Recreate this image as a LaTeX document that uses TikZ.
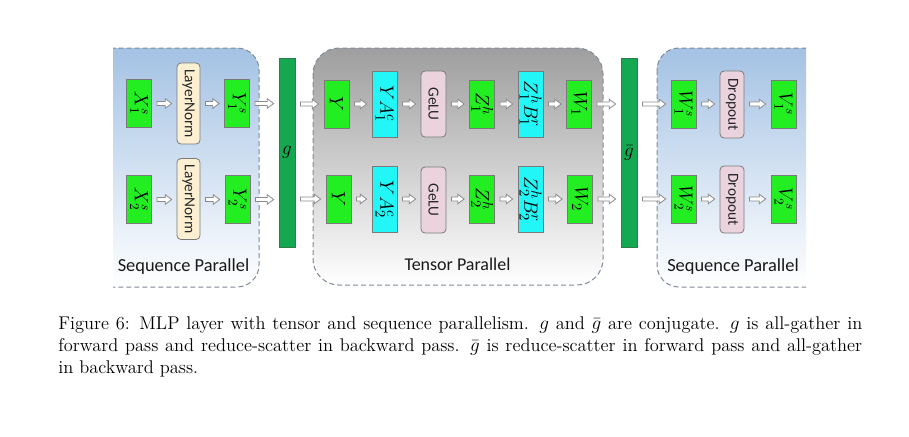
\documentclass[tikz,border=0pt]{standalone}
\usepackage{fontspec}
\usepackage{graphicx}
\newfontfamily\carl{Carlito}
\usetikzlibrary{calc}
\definecolor{bxgreen}{HTML}{22EE22}
\definecolor{bxcyan}{HTML}{22F6F6}
\definecolor{bxpink}{HTML}{EBD3DE}
\definecolor{bxcream}{HTML}{FDF0D2}
\definecolor{bargreen}{HTML}{14A850}
\definecolor{bardraw}{HTML}{2E7D4A}
\definecolor{bxborder}{HTML}{7A7A7A}
\definecolor{bluetop}{HTML}{A4C2E4}
\definecolor{graytop}{HTML}{9E9E9E}
\definecolor{panelline}{HTML}{7F8A98}
\definecolor{arrline}{HTML}{8A8A8A}
\def\pxu{0.75pt}
\def\bagap{3.75pt}
\def\bahl{4.8pt}
\def\bahh{3.6pt}
\def\bash{1.5pt}
\newcommand\barr[3]{%
  \draw[barrow] let \p1=(#1.east), \p2=(#2.west), \p3=(#3) in
   (\x1+\bagap,\y3+\bash) -- (\x2-\bagap-\bahl,\y3+\bash) -- (\x2-\bagap-\bahl,\y3+\bahh)
   -- (\x2-\bagap,\y3) -- (\x2-\bagap-\bahl,\y3-\bahh) -- (\x2-\bagap-\bahl,\y3-\bash)
   -- (\x1+\bagap,\y3-\bash) -- cycle;}
\begin{document}
\begin{tikzpicture}[x=0.75pt,y=-0.75pt,
  bx/.style={draw=bxborder, line width=0.6pt, inner sep=0pt, minimum width=25*\pxu, text=black},
  gsm/.style={bx, fill=bxgreen, minimum height=48*\pxu, font=\fontsize{14.5}{14.5}\selectfont},
  gmd/.style={bx, fill=bxgreen, minimum height=48*\pxu, font=\fontsize{15.5}{15.5}\selectfont},
  cmd/.style={bx, fill=bxcyan, minimum height=66*\pxu, font=\fontsize{15.5}{15.5}\selectfont},
  lnbox/.style={bx, fill=bxcream, rounded corners=3pt, minimum width=23*\pxu, minimum height=81*\pxu, font=\carl\fontsize{11.5}{11.5}\selectfont, text=black!85},
  pkbox/.style={bx, fill=bxpink, rounded corners=3pt, minimum height=66*\pxu, font=\carl\fontsize{11.5}{11.5}\selectfont, text=black!85},
  gbar/.style={draw=bardraw, line width=0.6pt, fill=bargreen, inner sep=0pt, minimum width=16*\pxu, minimum height=189*\pxu, font=\fontsize{14.5}{14.5}\selectfont},
  barrow/.style={draw=arrline, fill=white, line width=0.6pt, line join=miter},
  panel/.style={draw=panelline, line width=0.75pt, dash pattern=on 3.75pt off 2.25pt},
  plabel/.style={font=\carl\fontsize{13.8}{14}\selectfont, text=black!90, anchor=base, inner sep=0pt},
  captxt/.style={anchor=base west, inner sep=0pt, font=\fontsize{13.8}{16}\selectfont}
]
\useasboundingbox (0,0) rectangle (909,436);
% panels
\begin{scope}
  \clip (113,0) rectangle (806,436);
  \shade[top color=bluetop, bottom color=white, rounded corners=16.5pt] (70,48) rectangle (259,287);
  \draw[panel, rounded corners=16.5pt] (70,48) rectangle (259,287);
  \shade[top color=graytop, bottom color=white, rounded corners=19.5pt] (313,48) rectangle (603,285);
  \draw[panel, rounded corners=19.5pt] (313,48) rectangle (603,285);
  \shade[top color=bluetop, bottom color=white, rounded corners=16.5pt] (657,48) rectangle (850,287);
  \draw[panel, rounded corners=16.5pt] (657,48) rectangle (850,287);
\end{scope}
\node[plabel] (sp1) at (183.5,271) {Sequence Parallel};
\node[plabel, font=\carl\fontsize{13.5}{14}\selectfont] (tp) at (457.5,270) {Tensor Parallel};
\node[plabel] (sp2) at (733,271) {Sequence Parallel};
% bars
\node[gbar] (g) at (287,152.5) {$g$};
\node[gbar] (gb) at (629,152.5) {$\bar{g}$};
% left panel
\node[gsm] (x1) at (139,103.5) {\rotatebox{-90}{$X_1^s$}};
\node[lnbox] (ln1) at (188.5,103.5) {\rotatebox{-90}{LayerNorm}};
\node[gsm] (y1) at (237,103.5) {\rotatebox{-90}{$Y_1^s$}};
\node[gsm] (x2) at (139,199.5) {\rotatebox{-90}{$X_2^s$}};
\node[lnbox] (ln2) at (188.5,199) {\rotatebox{-90}{LayerNorm}};
\node[gsm] (y2) at (237.5,199.5) {\rotatebox{-90}{$Y_2^s$}};
% middle panel
\node[gmd] (ya) at (336.5,104) {\rotatebox{-90}{$Y$}};
\node[cmd] (ya1) at (384.5,104) {\rotatebox{-90}{$YA_1^c$}};
\node[pkbox] (ge1) at (433.5,104) {\rotatebox{-90}{GeLU}};
\node[gmd] (z1) at (482,104) {\rotatebox{-90}{$Z_1^h$}};
\node[cmd] (zb1) at (530.5,104) {\rotatebox{-90}{$Z_1^hB_1^r$}};
\node[gmd] (w1) at (579,104) {\rotatebox{-90}{$W_1$}};
\node[gmd] (yb) at (338.5,199) {\rotatebox{-90}{$Y$}};
\node[cmd] (ya2) at (384.5,199.5) {\rotatebox{-90}{$YA_2^c$}};
\node[pkbox] (ge2) at (433.5,200) {\rotatebox{-90}{GeLU}};
\node[gmd] (z2) at (482,199) {\rotatebox{-90}{$Z_2^h$}};
\node[cmd] (zb2) at (530.5,199.5) {\rotatebox{-90}{$Z_2^hB_2^r$}};
\node[gmd] (w2) at (580,199) {\rotatebox{-90}{$W_2$}};
% right panel
\node[gsm] (ws1) at (683.5,104) {\rotatebox{-90}{$W_1^s$}};
\node[pkbox, minimum width=24*\pxu, minimum height=67*\pxu] (dr1) at (732,104.5) {\rotatebox{-90}{Dropout}};
\node[gsm] (v1) at (783.5,104) {\rotatebox{-90}{$V_1^s$}};
\node[gsm] (ws2) at (683.5,199) {\rotatebox{-90}{$W_2^s$}};
\node[pkbox, minimum width=24*\pxu, minimum height=67*\pxu] (dr2) at (732,199.5) {\rotatebox{-90}{Dropout}};
\node[gsm] (v2) at (783.5,199) {\rotatebox{-90}{$V_2^s$}};
% arrows row 1
\barr{x1}{ln1}{x1}
\barr{ln1}{y1}{y1}
\barr{y1}{g}{y1}
\barr{g}{ya}{ya}
\barr{ya}{ya1}{ya}
\barr{ya1}{ge1}{ya}
\barr{ge1}{z1}{z1}
\barr{z1}{zb1}{z1}
\barr{zb1}{w1}{w1}
\barr{w1}{gb}{w1}
\barr{gb}{ws1}{ws1}
\barr{ws1}{dr1}{ws1}
\barr{dr1}{v1}{v1}
% arrows row 2
\barr{x2}{ln2}{x2}
\barr{ln2}{y2}{y2}
\barr{y2}{g}{y2}
\barr{g}{yb}{yb}
\barr{yb}{ya2}{yb}
\barr{ya2}{ge2}{yb}
\barr{ge2}{z2}{z2}
\barr{z2}{zb2}{z2}
\barr{zb2}{w2}{w2}
\barr{w2}{gb}{w2}
\barr{gb}{ws2}{ws2}
\barr{ws2}{dr2}{ws2}
\barr{dr2}{v2}{v2}
% caption
\node[captxt] (c1) at (58,329) {\makebox[603pt][s]{Figure 6: MLP layer with tensor and sequence parallelism. $g$ and $\bar{g}$ are conjugate. $g$ is all-gather in}};
\node[captxt] (c2) at (58,351) {\makebox[603pt][s]{forward pass and reduce-scatter in backward pass. $\bar{g}$ is reduce-scatter in forward pass and all-gather}};
\node[captxt] (c3) at (58,373) {in backward pass.};
\end{tikzpicture}
\end{document}
